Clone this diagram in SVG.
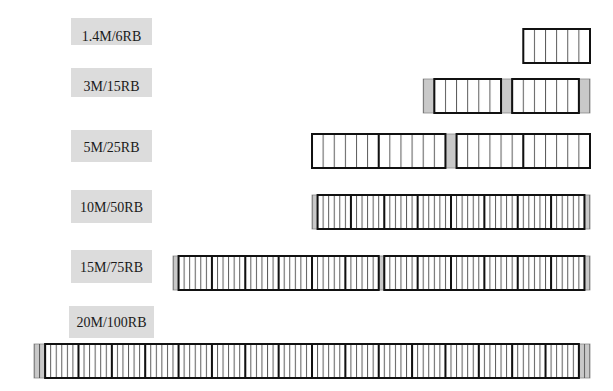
<svg xmlns="http://www.w3.org/2000/svg" width="613" height="391" viewBox="0 0 613 391">
<defs>
<pattern id="rbNarrow" patternUnits="userSpaceOnUse" x="33.5" y="0" width="5.56" height="391"><rect x="0" y="0" width="1" height="391" fill="#5a5a5a"/></pattern>
<pattern id="rbWide" patternUnits="userSpaceOnUse" x="33.5" y="0" width="11.12" height="391"><rect x="0" y="0" width="1" height="391" fill="#5a5a5a"/></pattern>
<style>
.lbl rect{fill:#dcdcdc}
.lbl text{font-family:"Liberation Serif",serif;font-size:14px;fill:#1a1a1a;text-anchor:middle}
.bg{fill:#fff}
.guard{fill:#c9c9c9;stroke:#8a8a8a;stroke-width:0.8}
.gn{fill:url(#rbNarrow)}
.gw{fill:url(#rbWide)}
.blk{fill:none;stroke:#111;stroke-width:2}
.div{fill:none;stroke:#111;stroke-width:2}
</style>
</defs>
<rect x="0" y="0" width="613" height="391" fill="#fff"/>

<g id="bw-1.4M">
<g class="lbl"><rect x="71" y="18" width="81" height="27"/><text x="111.5" y="41">1.4M/6RB</text></g>
<rect class="bg" x="523.28" y="29" width="66.72" height="34"/>
<rect class="gw" x="523.28" y="29" width="66.72" height="34"/>
<rect class="blk" x="523.28" y="29" width="66.72" height="34"/>
</g>

<g id="bw-3M">
<g class="lbl"><rect x="71" y="68" width="81" height="29"/><text x="111.5" y="91">3M/15RB</text></g>
<rect class="bg" x="423.2" y="79" width="166.8" height="34"/>
<rect class="guard" x="423.2" y="79" width="11.12" height="34"/>
<rect class="guard" x="501.04" y="79" width="11.12" height="34"/>
<rect class="guard" x="578.88" y="79" width="11.12" height="34"/>
<rect class="gw" x="423.2" y="79" width="166.8" height="34"/>
<rect class="blk" x="434.32" y="79" width="66.72" height="34"/>
<rect class="blk" x="512.16" y="79" width="66.72" height="34"/>
</g>

<g id="bw-5M">
<g class="lbl"><rect x="71" y="130" width="81" height="32"/><text x="111.5" y="151.5">5M/25RB</text></g>
<rect class="bg" x="312" y="134" width="278" height="34"/>
<rect class="guard" x="445.44" y="134" width="11.12" height="34"/>
<rect class="gw" x="312" y="134" width="278" height="34"/>
<rect class="blk" x="312" y="134" width="133.44" height="34"/>
<rect class="blk" x="456.56" y="134" width="133.44" height="34"/>
<path class="div" d="M378.72 134V168M523.28 134V168"/>
</g>

<g id="bw-10M">
<g class="lbl"><rect x="71" y="190" width="81" height="33"/><text x="111.5" y="212">10M/50RB</text></g>
<rect class="bg" x="312" y="195" width="278" height="34"/>
<rect class="guard" x="312" y="195" width="5.56" height="34"/>
<rect class="guard" x="584.44" y="195" width="5.56" height="34"/>
<rect class="gn" x="312" y="195" width="278" height="34"/>
<rect class="blk" x="317.56" y="195" width="266.88" height="34"/>
<path class="div" d="M350.92 195V229M384.28 195V229M417.64 195V229M451 195V229M484.36 195V229M517.72 195V229M551.08 195V229"/>
</g>

<g id="bw-15M">
<g class="lbl"><rect x="71" y="250" width="81" height="33"/><text x="111.5" y="272">15M/75RB</text></g>
<rect class="bg" x="173" y="256" width="417" height="34"/>
<rect class="guard" x="173" y="256" width="5.56" height="34"/>
<rect class="guard" x="378.72" y="256" width="5.56" height="34"/>
<rect class="guard" x="584.44" y="256" width="5.56" height="34"/>
<rect class="gn" x="173" y="256" width="417" height="34"/>
<rect class="blk" x="178.56" y="256" width="200.16" height="34"/>
<rect class="blk" x="384.28" y="256" width="200.16" height="34"/>
<path class="div" d="M211.92 256V290M245.28 256V290M278.64 256V290M312 256V290M345.36 256V290M417.64 256V290M451 256V290M484.36 256V290M517.72 256V290M551.08 256V290"/>
</g>

<g id="bw-20M">
<g class="lbl"><rect x="69" y="306" width="85" height="32"/><text x="111.5" y="327">20M/100RB</text></g>
<rect class="bg" x="34" y="344" width="556" height="34"/>
<rect class="guard" x="34" y="344" width="11.12" height="34"/>
<rect class="guard" x="578.88" y="344" width="11.12" height="34"/>
<rect class="gn" x="34" y="344" width="556" height="34"/>
<rect class="blk" x="45.12" y="344" width="533.76" height="34"/>
<path class="div" d="M78.48 344V378M111.84 344V378M145.2 344V378M178.56 344V378M211.92 344V378M245.28 344V378M278.64 344V378M312 344V378M345.36 344V378M378.72 344V378M412.08 344V378M445.44 344V378M478.8 344V378M512.16 344V378M545.52 344V378"/>
</g>

<g id="connectors"></g>
</svg>
